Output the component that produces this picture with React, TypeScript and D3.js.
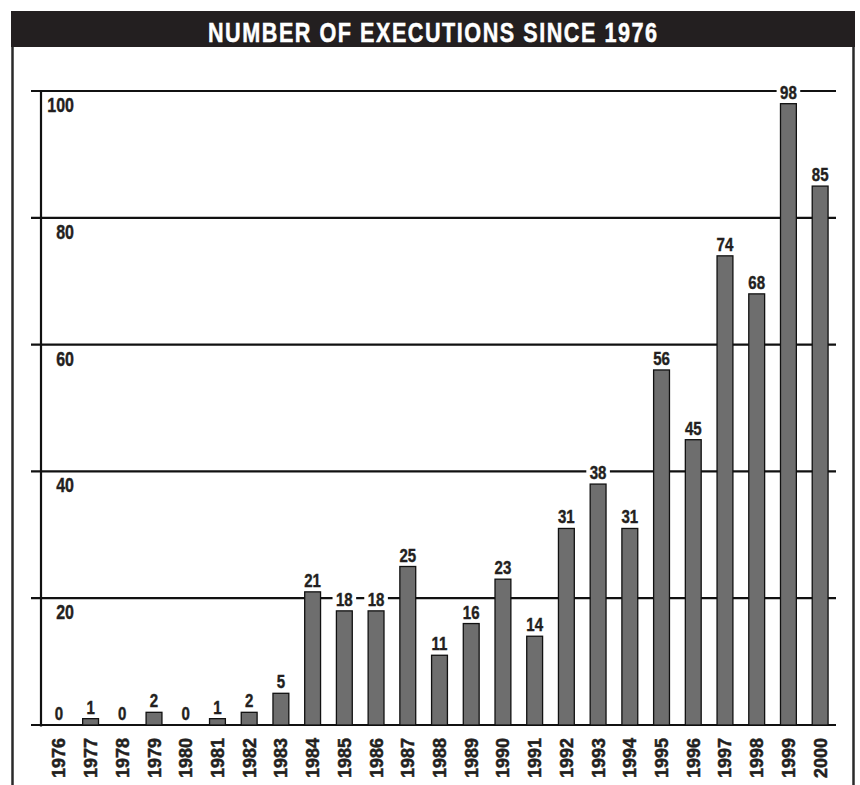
import React, { useEffect, useRef } from "react";
import * as d3 from "d3";

const years = [
  "1976", "1977", "1978", "1979", "1980", "1981", "1982", "1983", "1984",
  "1985", "1986", "1987", "1988", "1989", "1990", "1991", "1992", "1993",
  "1994", "1995", "1996", "1997", "1998", "1999", "2000",
];
const executions = [
  0, 1, 0, 2, 0, 1, 2, 5, 21, 18, 18, 25, 11, 16, 23, 14, 31, 38, 31, 56, 45,
  74, 68, 98, 85,
];
const yTicks = [0, 20, 40, 60, 80, 100];
const title = "NUMBER OF EXECUTIONS SINCE 1976";

const font = "'Liberation Sans', Arial, Helvetica, sans-serif";
const ink = "#231f20";

const App: React.FC = () => {
  const ref = useRef<SVGSVGElement>(null);

  useEffect(() => {
    const svg = d3.select(ref.current);
    svg.selectAll("*").remove();

    const W = 860;
    const H = 785;
    const plot = { left: 41, right: 836, top: 91, bottom: 725, gridLeft: 31 };

    // frame + title bar
    svg.append("rect").attr("width", W).attr("height", H).attr("fill", "#fff");
    svg
      .append("line")
      .attr("x1", 12.5).attr("x2", 12.5).attr("y1", 11).attr("y2", H)
      .attr("stroke", "#2a2a2a").attr("stroke-width", 2.5);
    svg
      .append("line")
      .attr("x1", 853.5).attr("x2", 853.5).attr("y1", 11).attr("y2", H)
      .attr("stroke", "#2a2a2a").attr("stroke-width", 2.5);
    svg
      .append("rect")
      .attr("x", 11).attr("y", 11).attr("width", 844).attr("height", 36)
      .attr("fill", ink);
    // condensed title: squeeze glyphs, then spread with letter spacing
    const titleScale = 0.8;
    svg
      .append("g")
      .attr("transform", `translate(432.5,42) scale(${titleScale},1)`)
      .append("text")
      .attr("text-anchor", "middle")
      .attr("fill", "#fff")
      .attr("stroke", "#fff")
      .attr("stroke-width", 0.5)
      .style("font-family", font)
      .style("font-weight", "bold")
      .style("font-size", "27px")
      .attr("textLength", 449 / titleScale)
      .attr("lengthAdjust", "spacing")
      .text(title);

    const x = d3
      .scaleBand()
      .domain(years)
      .range([43, plot.right])
      .paddingInner(0.5)
      .paddingOuter(0.25);

    const y = d3.scaleLinear().domain([0, 100]).range([plot.bottom, plot.top]);

    // gridlines
    svg
      .append("g")
      .selectAll("line")
      .data(yTicks)
      .enter()
      .append("line")
      .attr("x1", plot.gridLeft)
      .attr("x2", plot.right)
      .attr("y1", (d) => y(d))
      .attr("y2", (d) => y(d))
      .attr("stroke", "#111")
      .attr("stroke-width", 2.2);

    // y axis line
    svg
      .append("line")
      .attr("x1", plot.left).attr("x2", plot.left)
      .attr("y1", plot.top - 1).attr("y2", plot.bottom + 1.5)
      .attr("stroke", "#111").attr("stroke-width", 2.2);

    // y tick labels (below each gridline), condensed by scaling
    svg
      .append("g")
      .selectAll("g")
      .data(yTicks.filter((d) => d > 0))
      .enter()
      .append("g")
      .attr("transform", (d) => `translate(74,${y(d) + 21})`)
      .append("text")
      .attr("transform", "scale(0.82,1)")
      .attr("text-anchor", "end")
      .attr("fill", ink)
      .attr("stroke", ink)
      .attr("stroke-width", 0.4)
      .style("font-family", font)
      .style("font-weight", "bold")
      .style("font-size", "19.5px")
      .text((d) => d);

    // bars
    svg
      .append("g")
      .selectAll("rect")
      .data(executions.map((v, i) => ({ year: years[i], v })).filter((d) => d.v > 0))
      .enter()
      .append("rect")
      .attr("x", (d) => x(d.year)!)
      .attr("y", (d) => y(d.v))
      .attr("width", x.bandwidth())
      .attr("height", (d) => y(0) - y(d.v))
      .attr("fill", "#6e6e6e")
      .attr("stroke", "#111")
      .attr("stroke-width", 1.3);

    // value labels with white backing
    const labels = svg
      .append("g")
      .selectAll("g")
      .data(executions.map((v, i) => ({ year: years[i], v })))
      .enter()
      .append("g")
      .attr(
        "transform",
        (d) => `translate(${x(d.year)! + x.bandwidth() / 2},${y(d.v) - 5})`
      );
    labels
      .append("rect")
      .attr("x", (d) => -(String(d.v).length * 8.3 + 7) / 2)
      .attr("y", -14)
      .attr("width", (d) => String(d.v).length * 8.3 + 7)
      .attr("height", 16)
      .attr("fill", "#fff");
    labels
      .append("text")
      .attr("transform", "scale(0.86,1)")
      .attr("text-anchor", "middle")
      .attr("fill", ink)
      .attr("stroke", ink)
      .attr("stroke-width", 0.4)
      .style("font-family", font)
      .style("font-weight", "bold")
      .style("font-size", "17.5px")
      .text((d) => d.v);

    // x labels
    svg
      .append("g")
      .selectAll("text")
      .data(years)
      .enter()
      .append("text")
      .attr(
        "transform",
        (d) => `translate(${x(d)! + x.bandwidth() / 2 + 6.5},738) rotate(-90)`
      )
      .attr("text-anchor", "end")
      .attr("fill", ink)
      .attr("stroke", ink)
      .attr("stroke-width", 0.5)
      .style("font-family", font)
      .style("font-weight", "bold")
      .style("font-size", "18px")
      .text((d) => d);
  }, []);

  return (
    <svg
      ref={ref}
      width={860}
      height={785}
      style={{ position: "absolute", left: 0, top: 0 }}
    />
  );
};

export default App;
